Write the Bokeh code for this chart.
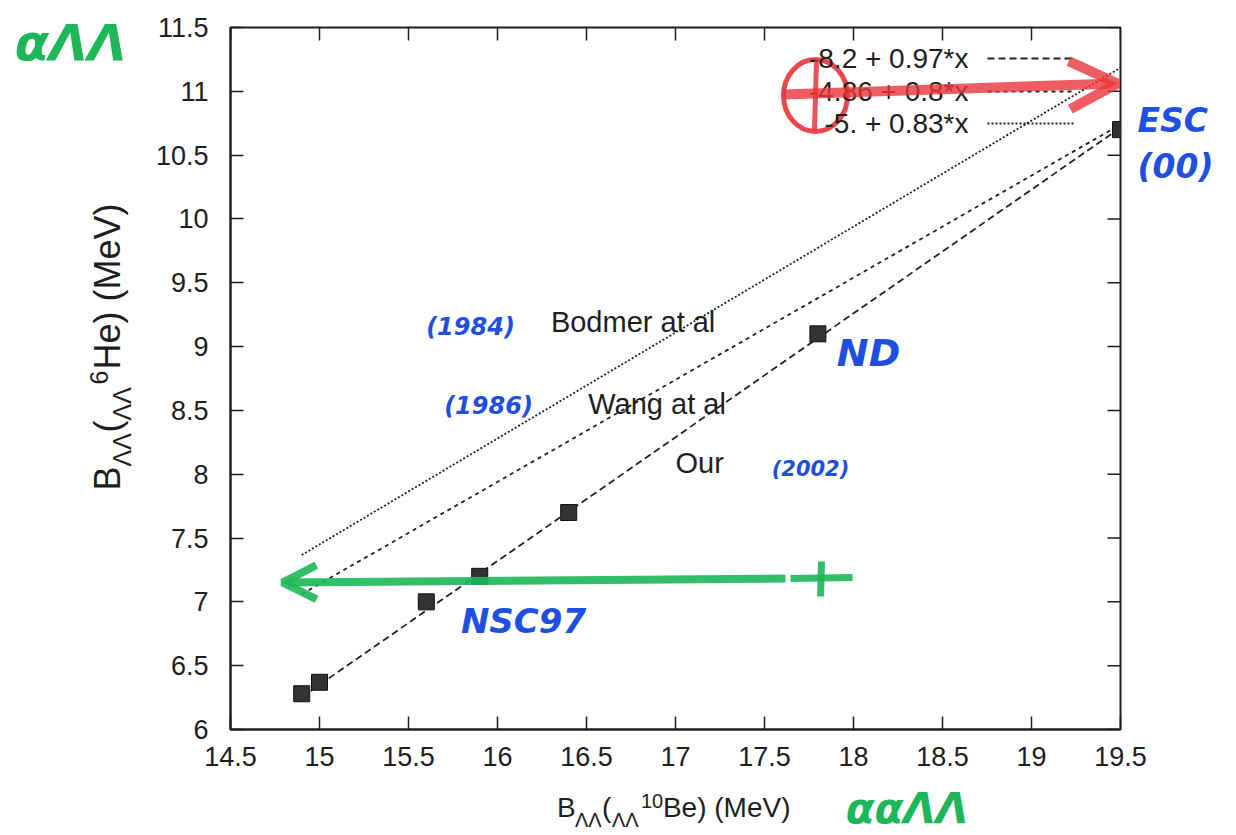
from bokeh.plotting import figure
from bokeh.models import Range1d, FixedTicker, LinearAxis, Label, Arrow, OpenHead
from bokeh.layouts import row, column
from bokeh.embed import file_html
from bokeh.resources import INLINE

# ---------------- data ----------------
be10_binding = [14.9, 15.0, 15.6, 15.9, 16.4, 17.8, 19.5]      # B_LL(10Be) MeV
he6_binding = [6.28, 6.37, 7.0, 7.2, 7.7, 9.1, 10.7]           # B_LL(6He) MeV

fit_labels = ["-8.2 + 0.97*x", "-4.86 + 0.8*x", "-5. + 0.83*x"]
fit_x = [14.9, 19.5]
our_fit_y = [6.253, 10.715]
wang_fit_y = [7.06, 10.74]
bodmer_fit_y = [7.367, 11.185]
fit_dashes = ["7 4", "4 4", "2 2"]

curve_names = ["Bodmer at al", "Wang at al", "Our"]
curve_name_x = [16.30, 16.51, 17.00]
curve_name_y = [9.19, 8.55, 8.09]

x_ticks = [14.5, 15.0, 15.5, 16.0, 16.5, 17.0, 17.5, 18.0, 18.5, 19.0, 19.5]
x_tick_labels = ["14.5", "15", "15.5", "16", "16.5", "17", "17.5", "18", "18.5", "19", "19.5"]
y_ticks = [6.0, 6.5, 7.0, 7.5, 8.0, 8.5, 9.0, 9.5, 10.0, 10.5, 11.0, 11.5]
y_tick_labels = ["6", "6.5", "7", "7.5", "8", "8.5", "9", "9.5", "10", "10.5", "11", "11.5"]

# ---------------- layout (canvas pixels) ----------------
W, H = 1236, 835
LEFT_W = 148            # left strip (y title)
MAIN_H = 780            # main figure height; bottom strip below it
FL, FR, FT, FB = 230, 1120, 27, 729   # plot frame in canvas pixels
X0, X1, Y0, Y1 = 14.5, 19.5, 6.0, 11.5
FONT = "Liberation Sans"
HAND = "DejaVu Sans"
INK = "#1e1e1e"
LINE = "#222222"
BLUE = "#1f4fe0"
GREEN = "#1db75a"
RED = "#e8343a"


def px_x(px):
    return X0 + (px - FL) * (X1 - X0) / (FR - FL)


def px_y(py):
    return Y0 + (FB - py) * (Y1 - Y0) / (FB - FT)


def strip(width, height, xr, yr):
    f = figure(width=width, height=height, x_range=Range1d(*xr), y_range=Range1d(*yr),
               output_backend="svg", toolbar_location=None,
               x_axis_location=None, y_axis_location=None, min_border=0)
    f.grid.visible = False
    f.outline_line_color = None
    f.background_fill_color = "white"
    f.border_fill_color = "white"
    return f


# ---------------- main figure ----------------
p = figure(width=W - LEFT_W, height=MAIN_H, x_range=Range1d(X0, X1), y_range=Range1d(Y0, Y1),
           output_backend="svg", toolbar_location=None,
           min_border_left=FL - LEFT_W, min_border_right=W - FR,
           min_border_top=FT, min_border_bottom=MAIN_H - FB)
p.xgrid.visible = False
p.ygrid.visible = False
p.background_fill_color = "white"
p.border_fill_color = "white"
p.outline_line_color = INK
p.outline_line_width = 2


def style_axis(ax, ticks, labels, standoff):
    ax.ticker = FixedTicker(ticks=ticks)
    ax.major_label_overrides = {float(t): l for t, l in zip(ticks, labels)}
    ax.major_tick_in = 13
    ax.major_tick_out = 0
    ax.minor_tick_in = 0
    ax.minor_tick_out = 0
    ax.axis_line_color = INK
    ax.axis_line_width = 2
    ax.major_tick_line_color = INK
    ax.major_tick_line_width = 1.5
    ax.major_label_text_font = FONT
    ax.major_label_text_color = INK
    ax.major_label_text_font_size = "27px"
    ax.major_label_standoff = standoff


style_axis(p.xaxis[0], x_ticks, x_tick_labels, 17)
style_axis(p.yaxis[0], y_ticks, y_tick_labels, 22)

# mirrored inward ticks on the top and right edges of the frame
tick_dx = 13 * (X1 - X0) / (FR - FL)
tick_dy = 13 * (Y1 - Y0) / (FB - FT)
p.segment(x0=x_ticks, y0=[Y1] * len(x_ticks), x1=x_ticks, y1=[Y1 - tick_dy] * len(x_ticks),
          line_color=INK, line_width=1.5)
p.segment(x0=[X1] * len(y_ticks), y0=y_ticks, x1=[X1 - tick_dx] * len(y_ticks), y1=y_ticks,
          line_color=INK, line_width=1.5)

# handwritten "ESC (00)" beside the right frame edge (as right-axis labels)
esc_axis = LinearAxis()
esc_pos = [px_y(120), px_y(166)]
esc_axis.ticker = FixedTicker(ticks=esc_pos)
esc_axis.major_label_overrides = {esc_pos[0]: "ESC", esc_pos[1]: "(00)"}
esc_axis.axis_line_color = None
esc_axis.major_tick_line_color = None
esc_axis.minor_tick_line_color = None
esc_axis.major_tick_out = 0
esc_axis.major_tick_in = 0
esc_axis.major_label_standoff = 17
esc_axis.major_label_text_font = HAND
esc_axis.major_label_text_font_style = "bold italic"
esc_axis.major_label_text_font_size = "33px"
esc_axis.major_label_text_color = BLUE
p.add_layout(esc_axis, "right")

# ---------------- fit lines ----------------
for ys, dash in zip([our_fit_y, wang_fit_y, bodmer_fit_y], fit_dashes):
    p.line(fit_x, ys, line_color=LINE, line_width=1.8, line_dash=dash)

# ---------------- data points ----------------
p.scatter(be10_binding, he6_binding, marker="square", size=16,
          fill_color="#333333", line_color="#111111", line_width=1)

# ---------------- key (gnuplot style) ----------------
key_rows_py = [58, 91, 123]
for lab, dash, ry in zip(fit_labels, fit_dashes, key_rows_py):
    p.add_layout(Label(x=px_x(968), y=px_y(ry), text=lab, text_align="right",
                       text_baseline="middle", text_font=FONT, text_font_size="28px",
                       text_color=INK))
    p.line([px_x(987), px_x(1073)], [px_y(ry), px_y(ry)], line_color=LINE,
           line_width=1.8, line_dash=dash)

# ---------------- curve names ----------------
for name, cx, cy in zip(curve_names, curve_name_x, curve_name_y):
    p.add_layout(Label(x=cx, y=cy, text=name, text_align="left", text_baseline="middle",
                       text_font=FONT, text_font_size="29px", text_color=INK))

# ---------------- handwritten annotations inside the frame ----------------
hand = [
    ("(1984)", 470, 326, 24),
    ("(1986)", 488, 405, 24),
    ("(2002)", 810, 468, 21),
    ("ND", 868, 352, 38),
    ("NSC97", 523, 620, 34),
]
for txt, hx, hy, fs in hand:
    p.add_layout(Label(x=px_x(hx), y=px_y(hy), text=txt, text_align="center",
                       text_baseline="middle", text_font=HAND,
                       text_font_style="bold italic", text_font_size=f"{fs}px",
                       text_color=BLUE))

# green arrow and plus
p.add_layout(Arrow(end=OpenHead(size=34, line_color=GREEN, line_width=8, line_alpha=0.9),
                   x_start=px_x(785), y_start=px_y(578), x_end=px_x(282), y_end=px_y(582),
                   line_color=GREEN, line_width=8, line_alpha=0.9))
p.add_layout(Arrow(end=None, x_start=px_x(790), y_start=px_y(578), x_end=px_x(852),
                   y_end=px_y(577), line_color=GREEN, line_width=7, line_alpha=0.9))
p.add_layout(Arrow(end=None, x_start=px_x(821), y_start=px_y(561), x_end=px_x(820),
                   y_end=px_y(596), line_color=GREEN, line_width=7, line_alpha=0.9))

# red circled cross and arrow
p.ellipse(x=[px_x(815)], y=[px_y(95)], width=64, height=72, width_units="screen",
          height_units="screen", fill_color=None, line_color=RED, line_width=5, line_alpha=0.9)
p.add_layout(Arrow(end=None, x_start=px_x(816), y_start=px_y(60), x_end=px_x(814),
                   y_end=px_y(130), line_color=RED, line_width=5, line_alpha=0.85))
p.add_layout(Arrow(end=OpenHead(size=48, line_color=RED, line_width=10, line_alpha=0.8),
                   x_start=px_x(783), y_start=px_y(94), x_end=px_x(1117), y_end=px_y(83),
                   line_color=RED, line_width=10, line_alpha=0.8))

# ---------------- left strip: y title + green note ----------------
left = strip(LEFT_W, H, (0, LEFT_W), (H, 0))
# (text, offset along the title, offset across it, font size)
y_title_parts = [("B", 0, 0, 36), ("ΛΛ", 24, 14, 25), ("(", 58, 0, 36),
                 ("ΛΛ", 70, 14, 25), ("6", 106, -9, 25), ("He) (MeV)", 121, 0, 36)]
for txt, dy, dx, fs in y_title_parts:
    left.add_layout(Label(x=107, y=490, x_offset=dx, y_offset=dy, text=txt,
                          angle=1.5707963, text_align="left", text_baseline="middle",
                          text_font=FONT, text_font_size=f"{fs}px", text_color=INK))
left.add_layout(Label(x=70, y=42, text="αΛΛ", text_align="center", text_baseline="middle",
                      text_font=HAND, text_font_style="bold italic", text_font_size="50px",
                      text_color=GREEN))

# ---------------- bottom strip: x title + green note ----------------
bottom = strip(W - LEFT_W, H - MAIN_H, (LEFT_W, W), (H, MAIN_H))
x_title_parts = [("B", 0, 0, 28), ("ΛΛ", 18, -12, 20), ("(", 45, 0, 28),
                 ("ΛΛ", 55, -12, 20), ("10", 84, 7, 20), ("Be) (MeV)", 106, 0, 28)]
for txt, dx, dy, fs in x_title_parts:
    bottom.add_layout(Label(x=547, y=807, x_offset=dx, y_offset=dy, text=txt,
                            text_align="left", text_baseline="middle", text_font=FONT,
                            text_font_size=f"{fs}px", text_color=INK))
bottom.add_layout(Label(x=975, y=808, text="ααΛΛ", text_align="center", text_baseline="middle",
                        text_font=HAND, text_font_style="bold italic", text_font_size="42px",
                        text_color=GREEN))

layout = row(left, column(p, bottom))
open("out.html", "w").write(file_html(layout, INLINE))
